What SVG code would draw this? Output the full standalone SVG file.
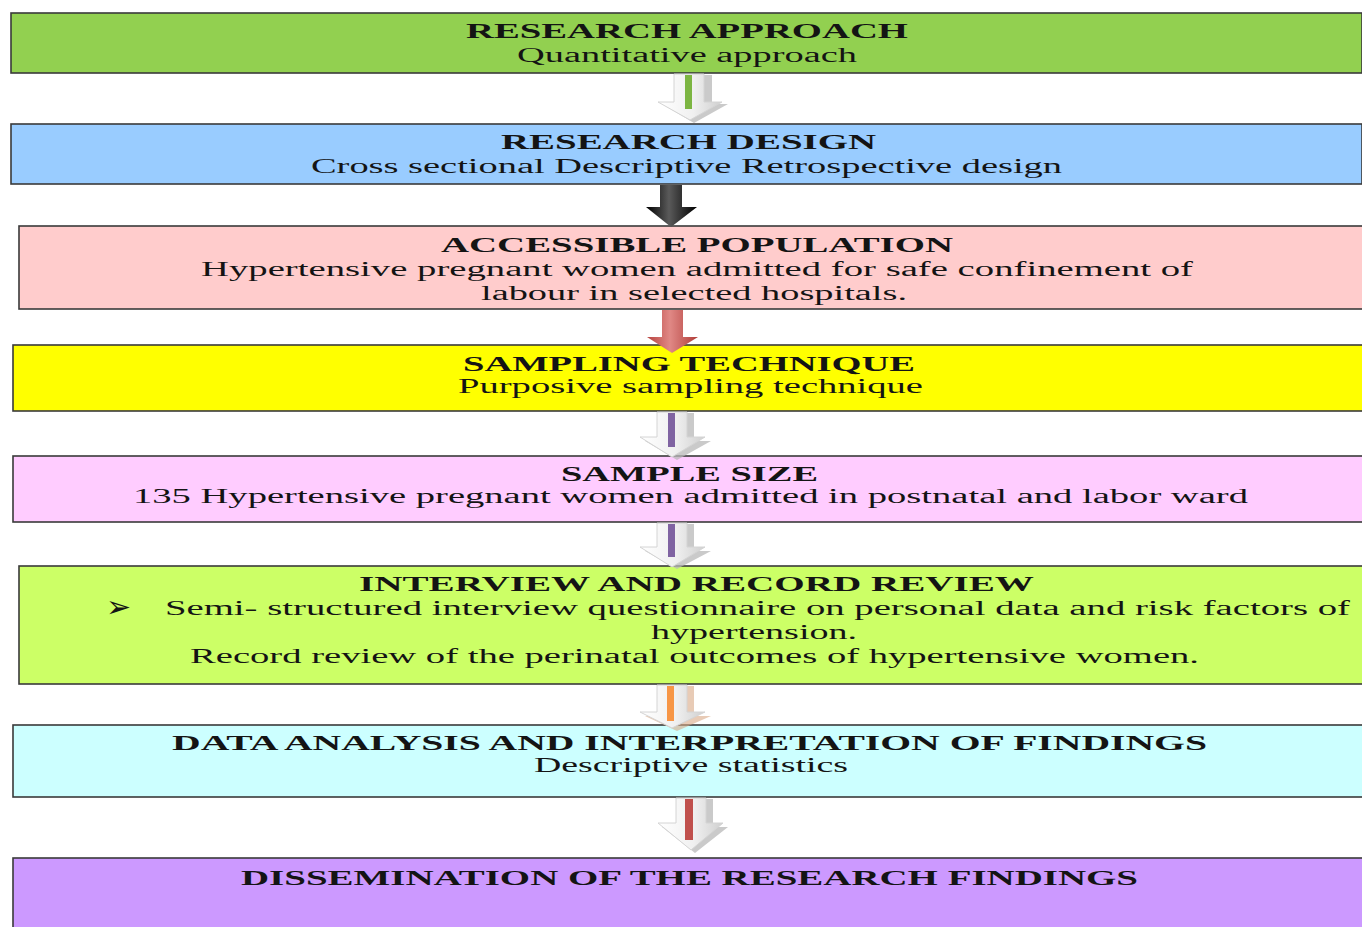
<svg xmlns="http://www.w3.org/2000/svg" width="1362" height="927" viewBox="0 0 1362 927">
<style>
.box{stroke:#3a3a3a;stroke-width:1.6}
.t{font-family:"Liberation Serif","Times New Roman",serif;font-size:20px;font-weight:bold;fill:#141414}
.s{font-family:"Liberation Serif","Times New Roman",serif;font-size:20px;fill:#141414}
.wa{fill:url(#wg);stroke:#d4d4d4;stroke-width:1}
.ws{fill:#b8b8b8;opacity:0.75}
</style>
<defs>
<linearGradient id="wg" x1="0" y1="0" x2="1" y2="0">
<stop offset="0" stop-color="#ffffff"/><stop offset="0.55" stop-color="#f0f0f0"/><stop offset="1" stop-color="#cfcfcf"/>
</linearGradient>
<linearGradient id="bg" x1="0" y1="0" x2="1" y2="0">
<stop offset="0" stop-color="#000"/><stop offset="0.45" stop-color="#5a5a5a"/><stop offset="1" stop-color="#000"/>
</linearGradient>
<linearGradient id="rg" x1="0" y1="0" x2="1" y2="0">
<stop offset="0" stop-color="#b84440"/><stop offset="0.45" stop-color="#e08885"/><stop offset="1" stop-color="#b03c38"/>
</linearGradient>
</defs>

<g id="n1">
<rect class="box" x="11" y="13" width="1351" height="60" fill="#92d050"/>
<text class="t" x="466" y="38" textLength="442" lengthAdjust="spacingAndGlyphs">RESEARCH APPROACH</text>
<text class="s" x="517" y="62" textLength="340" lengthAdjust="spacingAndGlyphs">Quantitative approach</text>
</g>
<g id="n2">
<rect class="box" x="11" y="124" width="1351" height="60" fill="#99ccff"/>
<text class="t" x="501" y="149" textLength="375" lengthAdjust="spacingAndGlyphs">RESEARCH DESIGN</text>
<text class="s" x="311" y="173" textLength="751" lengthAdjust="spacingAndGlyphs">Cross sectional  Descriptive  Retrospective  design</text>
</g>
<g id="n3">
<rect class="box" x="19" y="226" width="1345" height="83" fill="#ffcccc"/>
<text class="t" x="441" y="252" textLength="512" lengthAdjust="spacingAndGlyphs">ACCESSIBLE POPULATION</text>
<text class="s" x="201" y="276" textLength="992" lengthAdjust="spacingAndGlyphs">Hypertensive  pregnant  women  admitted  for  safe  confinement  of</text>
<text class="s" x="481" y="300" textLength="426" lengthAdjust="spacingAndGlyphs">labour  in  selected  hospitals.</text>
</g>
<g id="n4">
<rect class="box" x="13" y="345" width="1351" height="66" fill="#ffff00"/>
<text class="t" x="463" y="371" textLength="452" lengthAdjust="spacingAndGlyphs">SAMPLING TECHNIQUE</text>
<text class="s" x="458" y="393" textLength="465" lengthAdjust="spacingAndGlyphs">Purposive  sampling  technique</text>
</g>
<g id="n5">
<rect class="box" x="13" y="456" width="1351" height="66" fill="#ffccff"/>
<text class="t" x="561" y="481" textLength="257" lengthAdjust="spacingAndGlyphs">SAMPLE SIZE</text>
<text class="s" x="133" y="503" textLength="1115" lengthAdjust="spacingAndGlyphs">135  Hypertensive  pregnant  women  admitted  in  postnatal  and  labor  ward</text>
</g>
<g id="n6">
<rect class="box" x="19" y="566" width="1345" height="118" fill="#ccff66"/>
<text class="t" x="359" y="591" textLength="675" lengthAdjust="spacingAndGlyphs">INTERVIEW AND RECORD REVIEW</text>
<text x="106" y="617" font-family="DejaVu Sans, sans-serif" font-size="30" fill="#141414">➢</text>
<text class="s" x="165" y="615" textLength="1185" lengthAdjust="spacingAndGlyphs">Semi-  structured  interview  questionnaire  on  personal  data  and  risk  factors  of</text>
<text class="s" x="651" y="639" textLength="206" lengthAdjust="spacingAndGlyphs">hypertension.</text>
<text class="s" x="190" y="663" textLength="1009" lengthAdjust="spacingAndGlyphs">Record  review  of the perinatal  outcomes of hypertensive  women.</text>
</g>
<g id="n7">
<rect class="box" x="13" y="725" width="1351" height="72" fill="#ccffff"/>
<text class="t" x="172" y="750" textLength="1035" lengthAdjust="spacingAndGlyphs">DATA ANALYSIS AND INTERPRETATION OF FINDINGS</text>
<text class="s" x="534" y="772" textLength="314" lengthAdjust="spacingAndGlyphs">Descriptive  statistics</text>
</g>
<g id="n8">
<rect class="box" x="13" y="858" width="1351" height="80" fill="#cc99ff"/>
<text class="t" x="241" y="885" textLength="897" lengthAdjust="spacingAndGlyphs">DISSEMINATION OF THE RESEARCH FINDINGS</text>
</g>

<g id="connectors">
<g id="a1">
<path class="ws" d="M680,75 H712 V104 H728 L694,123 L662,104 H680 Z"/>
<path class="wa" d="M674,74 H704 V102 H722 L690,120 L658,102 H674 Z"/>
<rect x="685" y="75" width="7" height="34" fill="#7cb542"/>
</g>
<g id="a2">
<path d="M660,185 H682 V207 H697 L671,227 L646,207 H660 Z" fill="url(#bg)"/>
</g>
<g id="a3">
<path d="M662,310 H683 V337 H698 L672,353 L647,337 H662 Z" fill="url(#rg)"/>
</g>
<g id="a4">
<path class="ws" d="M663,413 H694 V441 H711 L677,460 L645,441 H663 Z"/>
<path class="wa" d="M657,412 H687 V437 H705 L672,457 L640,437 H657 Z"/>
<rect x="668" y="413" width="7" height="34" fill="#8064a2"/>
</g>
<g id="a5">
<path class="ws" d="M663,524 H694 V551 H711 L677,569 L645,551 H663 Z"/>
<path class="wa" d="M657,523 H687 V547 H705 L672,567 L640,547 H657 Z"/>
<rect x="668" y="524" width="7" height="33" fill="#8064a2"/>
</g>
<g id="a6">
<path d="M663,686 H694 V716 H711 L677,731 L645,716 H663 Z" fill="#d9a985" opacity="0.6"/>
<path class="wa" d="M657,685 H687 V712 H705 L672,728 L640,712 H657 Z"/>
<rect x="667" y="686" width="7" height="35" fill="#f79646"/>
</g>
<g id="a7">
<path class="ws" d="M682,799 H713 V827 H728 L695,853 L662,827 H682 Z"/>
<path class="wa" d="M676,798 H706 V823 H723 L691,850 L658,823 H676 Z"/>
<rect x="685" y="799" width="8" height="41" fill="#c0504d"/>
</g>
</g>
</svg>
